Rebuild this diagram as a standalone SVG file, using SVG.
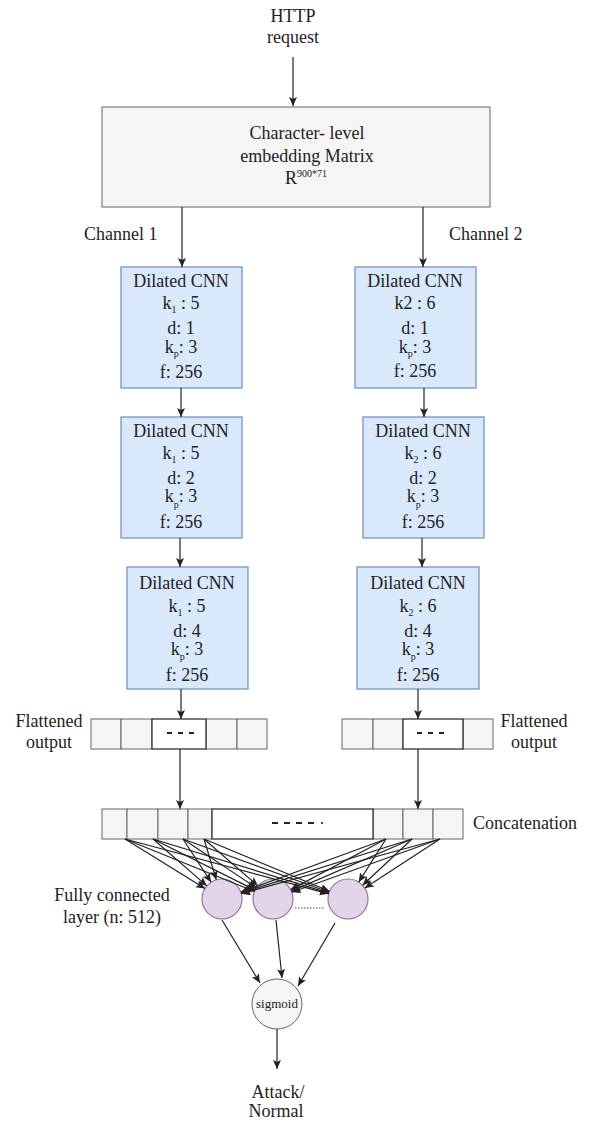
<svg xmlns="http://www.w3.org/2000/svg" width="592" height="1121" viewBox="0 0 592 1121">
  <style>
    text { font-family: "Liberation Serif", "Times New Roman", serif; font-size: 18px; fill: #222; }
    .c { text-anchor: middle; }
    .sub { font-size: 10px; }
    .gray { fill: #f5f5f5; stroke: #666; stroke-width: 1; }
    .cnn { fill: #dae8fc; stroke: #6c8ebf; stroke-width: 1.2; }
    .white { fill: #ffffff; stroke: #222; stroke-width: 1.2; }
    .fc { fill: #e1d5e7; stroke: #9673a6; stroke-width: 1.2; }
    .edge { stroke: #222; stroke-width: 1.2; fill: none; marker-end: url(#arrow); }
    .dash { stroke: #222; stroke-width: 2; fill: none; }
  </style>
  <defs>
    <marker id="arrow" markerUnits="userSpaceOnUse" markerWidth="10" markerHeight="10" refX="9" refY="5" orient="auto">
      <path d="M0,1 L9,5 L0,9 L2,5 Z" fill="#222"/>
    </marker>
  </defs>

  <rect width="592" height="1121" fill="#ffffff"/>

  <!-- input label -->
  <g id="http-request">
    <text x="293" y="22" class="c">HTTP</text>
    <text x="293" y="43" class="c">request</text>
  </g>

  <!-- embedding matrix -->
  <g id="embedding">
    <rect x="102" y="107" width="388" height="100" class="gray"/>
    <text x="307" y="139" class="c">Character- level</text>
    <text x="307" y="162" class="c">embedding Matrix</text>
    <text x="306" y="184" class="c">R<tspan class="sub" dy="-7">900*71</tspan></text>
  </g>

  <g id="channel-labels">
    <text x="84" y="240">Channel 1</text>
    <text x="449" y="240">Channel 2</text>
  </g>

  <!-- channel 1 dilated CNN stack -->
  <g id="cnn-1-1">
    <rect x="121" y="267" width="121" height="121" class="cnn"/>
    <text x="181" y="287" class="c">Dilated CNN</text>
    <text x="181" y="309" class="c">k<tspan class="sub" dy="4">1</tspan><tspan dy="-4"> : 5</tspan></text>
    <text x="181" y="334" class="c">d: 1</text>
    <text x="181" y="353" class="c">k<tspan class="sub" dy="4">p</tspan><tspan dy="-4">: 3</tspan></text>
    <text x="181" y="378" class="c">f: 256</text>
  </g>
  <g id="cnn-1-2">
    <rect x="121" y="417" width="121" height="121" class="cnn"/>
    <text x="181" y="437" class="c">Dilated CNN</text>
    <text x="181" y="459" class="c">k<tspan class="sub" dy="4">1</tspan><tspan dy="-4"> : 5</tspan></text>
    <text x="181" y="484" class="c">d: 2</text>
    <text x="181" y="502" class="c">k<tspan class="sub" dy="6">p</tspan><tspan dy="-6">: 3</tspan></text>
    <text x="181" y="528" class="c">f: 256</text>
  </g>
  <g id="cnn-1-3">
    <rect x="127" y="567" width="121" height="122" class="cnn"/>
    <text x="187" y="589" class="c">Dilated CNN</text>
    <text x="187" y="612" class="c">k<tspan class="sub" dy="4">1</tspan><tspan dy="-4"> : 5</tspan></text>
    <text x="187" y="637" class="c">d: 4</text>
    <text x="187" y="655" class="c">k<tspan class="sub" dy="5">p</tspan><tspan dy="-5">: 3</tspan></text>
    <text x="187" y="681" class="c">f: 256</text>
  </g>

  <!-- channel 2 dilated CNN stack -->
  <g id="cnn-2-1">
    <rect x="355" y="267" width="121" height="121" class="cnn"/>
    <text x="415" y="287" class="c">Dilated CNN</text>
    <text x="415" y="309" class="c">k2 : 6</text>
    <text x="415" y="334" class="c">d: 1</text>
    <text x="415" y="353" class="c">k<tspan class="sub" dy="4">p</tspan><tspan dy="-4">: 3</tspan></text>
    <text x="415" y="377" class="c">f: 256</text>
  </g>
  <g id="cnn-2-2">
    <rect x="363" y="417" width="121" height="121" class="cnn"/>
    <text x="423" y="437" class="c">Dilated CNN</text>
    <text x="423" y="459" class="c">k<tspan class="sub" dy="4">2</tspan><tspan dy="-4"> : 6</tspan></text>
    <text x="423" y="484" class="c">d: 2</text>
    <text x="423" y="502" class="c">k<tspan class="sub" dy="6">p</tspan><tspan dy="-6">: 3</tspan></text>
    <text x="423" y="528" class="c">f: 256</text>
  </g>
  <g id="cnn-2-3">
    <rect x="357" y="567" width="122" height="122" class="cnn"/>
    <text x="418" y="589" class="c">Dilated CNN</text>
    <text x="418" y="612" class="c">k<tspan class="sub" dy="4">2</tspan><tspan dy="-4"> : 6</tspan></text>
    <text x="418" y="637" class="c">d: 4</text>
    <text x="418" y="655" class="c">k<tspan class="sub" dy="5">p</tspan><tspan dy="-5">: 3</tspan></text>
    <text x="418" y="681" class="c">f: 256</text>
  </g>

  <!-- flattened outputs -->
  <g id="flatten-1">
    <rect x="91" y="719" width="30" height="30" class="gray"/>
    <rect x="121" y="719" width="31" height="30" class="gray"/>
    <rect x="206" y="719" width="31" height="30" class="gray"/>
    <rect x="237" y="719" width="30" height="30" class="gray"/>
    <rect x="152" y="719" width="54" height="30" class="white"/>
    <path d="M167,733 H197" class="dash" stroke-dasharray="5 6"/>
    <text x="49" y="727" class="c">Flattened</text>
    <text x="49" y="748" class="c">output</text>
  </g>
  <g id="flatten-2">
    <rect x="342" y="719" width="31" height="30" class="gray"/>
    <rect x="373" y="719" width="30" height="30" class="gray"/>
    <rect x="463" y="719" width="30" height="30" class="gray"/>
    <rect x="403" y="719" width="60" height="30" class="white"/>
    <path d="M417,733 H447" class="dash" stroke-dasharray="5 6"/>
    <text x="534" y="727" class="c">Flattened</text>
    <text x="534" y="748" class="c">output</text>
  </g>

  <!-- concatenation -->
  <g id="concatenation">
    <rect x="102" y="809" width="25" height="30" class="gray"/>
    <rect x="127" y="809" width="31" height="30" class="gray"/>
    <rect x="158" y="809" width="30" height="30" class="gray"/>
    <rect x="188" y="809" width="24" height="30" class="gray"/>
    <rect x="373" y="809" width="30" height="30" class="gray"/>
    <rect x="403" y="809" width="30" height="30" class="gray"/>
    <rect x="433" y="809" width="30" height="30" class="gray"/>
    <rect x="212" y="809" width="161" height="30" class="white"/>
    <path d="M272,823 H315" class="dash" stroke-dasharray="6 6"/>
    <circle cx="322" cy="823" r="1.1" fill="#222"/>
    <text x="473" y="829">Concatenation</text>
  </g>

  <!-- fully connected layer -->
  <g id="fc-layer">
    <circle cx="222" cy="899" r="20" class="fc"/>
    <circle cx="273" cy="899" r="20" class="fc"/>
    <circle cx="348" cy="899" r="20" class="fc"/>
    <path d="M295,908 H325" stroke="#444" stroke-width="1" stroke-dasharray="1.5 1.5"/>
    <text x="112" y="901" class="c">Fully connected</text>
    <text x="112" y="923" class="c">layer (n: 512)</text>
  </g>

  <!-- sigmoid output unit -->
  <g id="sigmoid">
    <circle cx="277" cy="1004" r="25" class="gray"/>
    <text x="277" y="1008" class="c" style="font-size:13px">sigmoid</text>
  </g>

  <g id="result">
    <text x="278" y="1098" class="c">Attack/</text>
    <text x="276" y="1117" class="c">Normal</text>
  </g>

  <!-- connectors -->
  <g id="connectors">
    <path d="M293,57 V106" class="edge"/>
    <path d="M182,207 V267" class="edge"/>
    <path d="M423,207 V267" class="edge"/>
    <path d="M181,388 V417" class="edge"/>
    <path d="M424,388 V417" class="edge"/>
    <path d="M180,538 V567" class="edge"/>
    <path d="M422,538 V567" class="edge"/>
    <path d="M181,689 V719" class="edge"/>
    <path d="M418,689 V719" class="edge"/>
    <path d="M180,749 V809" class="edge"/>
    <path d="M418,749 V809" class="edge"/>

    <!-- concatenation to fully connected units -->
    <path d="M125,839 L205,888.5" class="edge"/>
    <path d="M125,839 L254.5,891.5" class="edge"/>
    <path d="M125,839 L328.7,893.8" class="edge"/>
    <path d="M153,839 L206.9,885.9" class="edge"/>
    <path d="M153,839 L255.1,890.1" class="edge"/>
    <path d="M153,839 L328.9,893.1" class="edge"/>
    <path d="M183,839 L211.1,882.2" class="edge"/>
    <path d="M183,839 L256.4,887.9" class="edge"/>
    <path d="M183,839 L329.2,892.2" class="edge"/>
    <path d="M204,839 L216.3,879.8" class="edge"/>
    <path d="M204,839 L257.9,885.9" class="edge"/>
    <path d="M204,839 L329.5,891.3" class="edge"/>
    <path d="M386,839 L240.8,892.1" class="edge"/>
    <path d="M386,839 L290.7,889.6" class="edge"/>
    <path d="M386,839 L358.7,882.1" class="edge"/>
    <path d="M412,839 L241.1,893" class="edge"/>
    <path d="M412,839 L291.4,891.1" class="edge"/>
    <path d="M412,839 L362.6,885.3" class="edge"/>
    <path d="M440,839 L241.3,893.7" class="edge"/>
    <path d="M440,839 L291.8,892.2" class="edge"/>
    <path d="M440,839 L364.8,888.1" class="edge"/>

    <!-- fully connected units to sigmoid -->
    <path d="M222,920 L260,983" class="edge"/>
    <path d="M276,920 L282,978" class="edge"/>
    <path d="M335,923 L298,986" class="edge"/>
    <path d="M277,1029 V1069" class="edge"/>
  </g>
</svg>
